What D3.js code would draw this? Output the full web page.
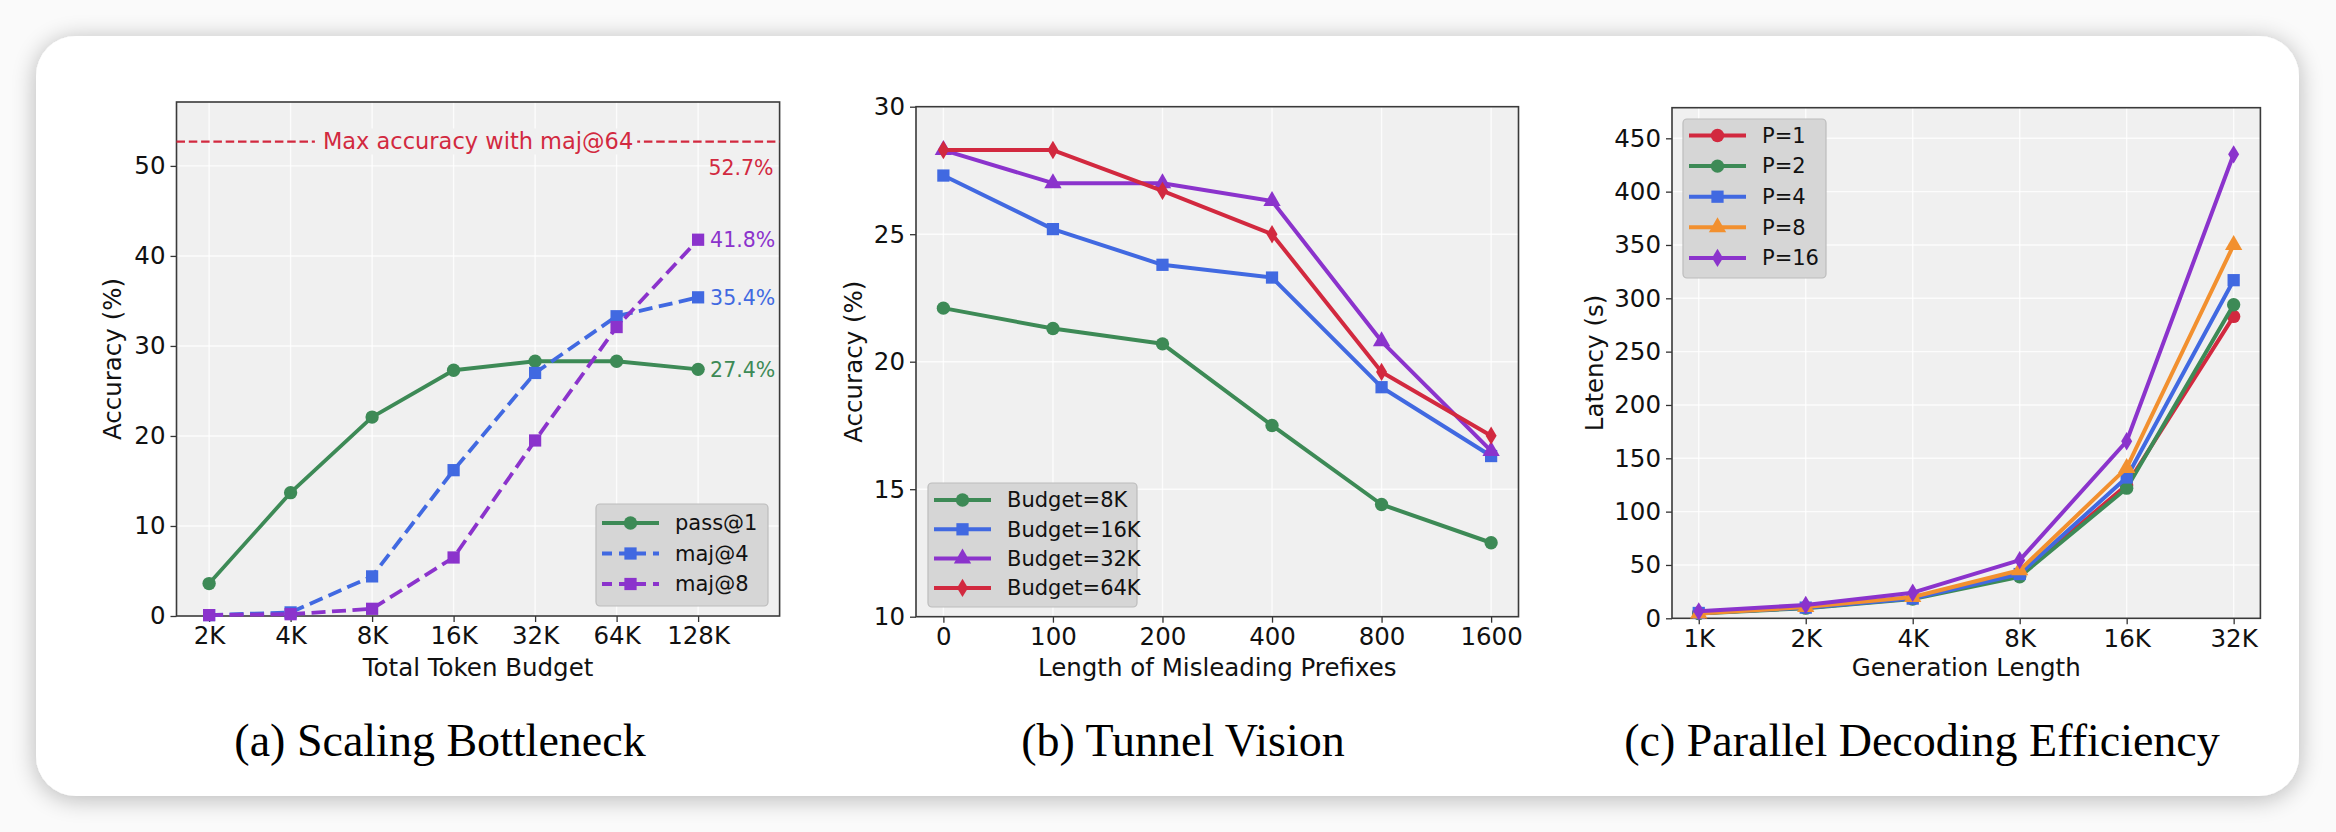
<!DOCTYPE html>
<html>
<head>
<meta charset="utf-8">
<script src="https://cdn.jsdelivr.net/npm/d3@7"></script>
<style>
  html, body { margin: 0; padding: 0; background: #fafafa; }
  svg { display: block; }
  text { font-family: "DejaVu Sans", sans-serif; }
</style>
</head>
<body>
<script>
// ---- data ----
var budgetsA = ["2K", "4K", "8K", "16K", "32K", "64K", "128K"];
var passAt1 = [3.6, 13.7, 22.1, 27.3, 28.3, 28.3, 27.4];
var majAt4 = [0.1, 0.4, 4.4, 16.2, 27.0, 33.3, 35.4];
var majAt8 = [0.1, 0.2, 0.8, 6.5, 19.5, 32.1, 41.8];
var maxMaj64 = 52.7;
var yTicksA = [0, 10, 20, 30, 40, 50];

var prefixLens = ["0", "100", "200", "400", "800", "1600"];
var budget8K = [22.1, 21.3, 20.7, 17.5, 14.4, 12.9];
var budget16K = [27.3, 25.2, 23.8, 23.3, 19.0, 16.3];
var budget32K = [28.3, 27.0, 27.0, 26.3, 20.8, 16.5];
var budget64K = [28.3, 28.3, 26.7, 25.0, 19.6, 17.1];
var yTicksB = [10, 15, 20, 25, 30];

var genLens = ["1K", "2K", "4K", "8K", "16K", "32K"];
var latP1 = [5, 10, 19, 40, 125, 283];
var latP2 = [4.5, 9.5, 18, 39, 122, 294];
var latP4 = [5, 10, 18.5, 41.5, 132, 317];
var latP8 = [4.5, 10.5, 20, 45, 141, 350];
var latP16 = [6.5, 12.5, 24, 54.5, 166, 435];
var yTicksC = [0, 50, 100, 150, 200, 250, 300, 350, 400, 450];

var RED = "#d2293f", GREEN = "#3d8a56", BLUE = "#4169e1",
    ORANGE = "#f2902f", PURPLE = "#8b33cc";

var W = 2336, H = 832;
var svg = d3.select("body").append("svg").attr("width", W).attr("height", H);

// card with soft shadow
var defs = svg.append("defs");
var f = defs.append("filter").attr("id", "shadow")
    .attr("x", "-5%").attr("y", "-10%").attr("width", "110%").attr("height", "120%");
f.append("feGaussianBlur").attr("in", "SourceAlpha").attr("stdDeviation", 12);
f.append("feOffset").attr("dx", 0).attr("dy", 3).attr("result", "b");
f.append("feComponentTransfer").append("feFuncA").attr("type", "linear").attr("slope", 0.28);
var fm = f.append("feMerge");
fm.append("feMergeNode");
fm.append("feMergeNode").attr("in", "SourceGraphic");

svg.append("rect").attr("x", 36).attr("y", 36).attr("width", 2263).attr("height", 760)
    .attr("rx", 40).attr("fill", "#fff").attr("filter", "url(#shadow)");

// thin diamond like matplotlib 'd'
var thinDiamond = { draw: function(ctx, size) {
  var h = Math.sqrt(size) * 0.75, w = h * 0.6;
  ctx.moveTo(0, -h); ctx.lineTo(w, 0); ctx.lineTo(0, h); ctx.lineTo(-w, 0); ctx.closePath();
}};
var markers = {
  circle: d3.symbol().type(d3.symbolCircle).size(140),
  square: d3.symbol().type(d3.symbolSquare).size(150),
  triangle: d3.symbol().type(d3.symbolTriangle).size(130),
  diamond: d3.symbol().type(thinDiamond).size(150)
};

function panel(cfg) {
  var g = svg.append("g");
  var x = d3.scaleLinear().domain(cfg.xlim).range([cfg.left, cfg.right]);
  var y = d3.scaleLinear().domain(cfg.ylim).range([cfg.bottom, cfg.top]);
  var idx = cfg.cats.map(function(d, i) { return i; });

  g.append("rect").attr("x", cfg.left).attr("y", cfg.top)
      .attr("width", cfg.right - cfg.left).attr("height", cfg.bottom - cfg.top)
      .attr("fill", "#f0f0f0");

  // grid
  g.append("g").selectAll("line").data(cfg.yticks).join("line")
      .attr("x1", cfg.left).attr("x2", cfg.right)
      .attr("y1", function(d) { return y(d); }).attr("y2", function(d) { return y(d); })
      .attr("stroke", "#fff").attr("stroke-opacity", 0.8).attr("stroke-width", 1.4);
  g.append("g").selectAll("line").data(idx).join("line")
      .attr("y1", cfg.top).attr("y2", cfg.bottom)
      .attr("x1", function(d) { return x(d); }).attr("x2", function(d) { return x(d); })
      .attr("stroke", "#fff").attr("stroke-opacity", 0.8).attr("stroke-width", 1.4);

  // axes
  var xAxis = d3.axisBottom(x).tickValues(idx)
      .tickFormat(function(i) { return cfg.cats[i]; }).tickSize(6).tickPadding(5);
  var yAxis = d3.axisLeft(y).tickValues(cfg.yticks).tickSize(6).tickPadding(5);
  var gx = g.append("g").attr("transform", "translate(0," + cfg.bottom + ")").call(xAxis);
  var gy = g.append("g").attr("transform", "translate(" + cfg.left + ",0)").call(yAxis);
  [gx, gy].forEach(function(a) {
    a.select(".domain").remove();
    a.selectAll(".tick line").attr("stroke", "#333").attr("stroke-width", 1.3);
    a.selectAll(".tick text").attr("fill", "#111").style("font-size", "24.5px")
        .style("font-family", "DejaVu Sans");
  });

  g.append("rect").attr("x", cfg.left).attr("y", cfg.top)
      .attr("width", cfg.right - cfg.left).attr("height", cfg.bottom - cfg.top)
      .attr("fill", "none").attr("stroke", "#3a3a3a").attr("stroke-width", 1.6);

  // labels
  g.append("text").attr("x", (cfg.left + cfg.right) / 2).attr("y", 676)
      .attr("text-anchor", "middle").style("font-size", "24.5px").attr("fill", "#111")
      .text(cfg.xlabel);
  g.append("text")
      .attr("transform", "translate(" + cfg.ylabelX + "," + (cfg.top + cfg.bottom) / 2 + ") rotate(-90)")
      .attr("text-anchor", "middle").style("font-size", "24.5px").attr("fill", "#111")
      .text(cfg.ylabel);
  g.append("text").attr("x", cfg.captionX).attr("y", 756).attr("text-anchor", "middle")
      .style("font-family", "Liberation Serif, serif").style("font-size", "46px").attr("fill", "#000")
      .text(cfg.caption);

  if (cfg.extra) cfg.extra(g, x, y);

  // series
  var line = d3.line().x(function(d, i) { return x(i); }).y(function(d) { return y(d); });
  cfg.series.forEach(function(s) {
    g.append("path").datum(s.values).attr("d", line).attr("fill", "none")
        .attr("stroke", s.color).attr("stroke-width", cfg.lw)
        .attr("stroke-dasharray", s.dash || null).attr("stroke-linejoin", "round");
    g.append("g").selectAll("path").data(s.values).join("path")
        .attr("d", markers[s.marker])
        .attr("transform", function(d, i) { return "translate(" + x(i) + "," + y(d) + ")"; })
        .attr("fill", s.color);
  });
  if (cfg.after) cfg.after(g, x, y);

  // legend
  var L = cfg.legend;
  g.append("rect").attr("x", L.x).attr("y", L.y).attr("width", L.w).attr("height", L.h)
      .attr("rx", 4).attr("fill", "#d6d6d6").attr("stroke", "#bcbcbc").attr("stroke-width", 1.2);
  cfg.series.forEach(function(s, k) {
    var ry = L.y + L.first + k * L.step;
    g.append("line").attr("x1", L.x + 6).attr("x2", L.x + 63).attr("y1", ry).attr("y2", ry)
        .attr("stroke", s.color).attr("stroke-width", cfg.lw)
        .attr("stroke-dasharray", s.dash ? "10,7" : null);
    g.append("path").attr("d", markers[s.marker])
        .attr("transform", "translate(" + (L.x + 34.5) + "," + ry + ")").attr("fill", s.color);
    g.append("text").attr("x", L.x + 79).attr("y", ry).attr("dy", "0.35em")
        .style("font-size", "21px").attr("fill", "#111").text(s.name);
  });
}

// (a)
panel({
  left: 176.5, right: 779.6, top: 102, bottom: 616,
  xlim: [-0.4, 7.0], ylim: [0, 57.1], cats: budgetsA, yticks: yTicksA,
  xlabel: "Total Token Budget", ylabel: "Accuracy (%)", ylabelX: 121,
  caption: "(a) Scaling Bottleneck", captionX: 440, lw: 3.8,
  series: [
    { name: "pass@1", values: passAt1, color: GREEN, marker: "circle" },
    { name: "maj@4", values: majAt4, color: BLUE, marker: "square", dash: "14,6.5" },
    { name: "maj@8", values: majAt8, color: PURPLE, marker: "square", dash: "14,6.5" }
  ],
  legend: { x: 596, y: 504, w: 172, h: 102, first: 19, step: 30.5 },
  extra: function(g, x, y) {
    g.append("line").attr("x1", x(-0.4)).attr("x2", x(7.0))
        .attr("y1", y(maxMaj64)).attr("y2", y(maxMaj64))
        .attr("stroke", RED).attr("stroke-width", 2.4).attr("stroke-dasharray", "8.5,3.8");
    var t = g.append("text").attr("x", (x(-0.4) + x(7.0)) / 2).attr("y", y(maxMaj64))
        .attr("dy", "0.35em").attr("text-anchor", "middle").style("font-size", "22.5px")
        .attr("fill", RED).text("Max accuracy with maj@64");
    var bb = t.node().getBBox();
    g.insert("rect", function() { return t.node(); })
        .attr("x", bb.x - 8).attr("y", bb.y).attr("width", bb.width + 12).attr("height", bb.height)
        .attr("fill", "#f0f0f0");
    g.append("text").attr("x", x(7.0) - 6).attr("y", y(maxMaj64) + 33)
        .attr("text-anchor", "end").style("font-size", "20.5px").attr("fill", RED)
        .text(maxMaj64.toFixed(1) + "%");
  },
  after: function(g, x, y) {
    [[passAt1, GREEN], [majAt4, BLUE], [majAt8, PURPLE]].forEach(function(p) {
      var v = p[0][p[0].length - 1];
      g.append("text").attr("x", x(p[0].length - 1) + 12).attr("y", y(v)).attr("dy", "0.35em")
          .style("font-size", "20.5px").attr("fill", p[1]).text(v.toFixed(1) + "%");
    });
  }
});

// (b)
panel({
  left: 916, right: 1518.5, top: 106.7, bottom: 616.7,
  xlim: [-0.25, 5.25], ylim: [10, 30], cats: prefixLens, yticks: yTicksB,
  xlabel: "Length of Misleading Prefixes", ylabel: "Accuracy (%)", ylabelX: 862,
  caption: "(b) Tunnel Vision", captionX: 1183, lw: 4,
  series: [
    { name: "Budget=8K", values: budget8K, color: GREEN, marker: "circle" },
    { name: "Budget=16K", values: budget16K, color: BLUE, marker: "square" },
    { name: "Budget=32K", values: budget32K, color: PURPLE, marker: "triangle" },
    { name: "Budget=64K", values: budget64K, color: RED, marker: "diamond" }
  ],
  legend: { x: 928, y: 483, w: 209, h: 124, first: 17, step: 29.3 }
});

// (c)
panel({
  left: 1672, right: 2260.4, top: 107.7, bottom: 618.3,
  xlim: [-0.25, 5.25], ylim: [0, 478.7], cats: genLens, yticks: yTicksC,
  xlabel: "Generation Length", ylabel: "Latency (s)", ylabelX: 1603,
  caption: "(c) Parallel Decoding Efficiency", captionX: 1922, lw: 4,
  series: [
    { name: "P=1", values: latP1, color: RED, marker: "circle" },
    { name: "P=2", values: latP2, color: GREEN, marker: "circle" },
    { name: "P=4", values: latP4, color: BLUE, marker: "square" },
    { name: "P=8", values: latP8, color: ORANGE, marker: "triangle" },
    { name: "P=16", values: latP16, color: PURPLE, marker: "diamond" }
  ],
  legend: { x: 1683, y: 119, w: 143, h: 159, first: 16.5, step: 30.6 }
});
</script>
</body>
</html>
